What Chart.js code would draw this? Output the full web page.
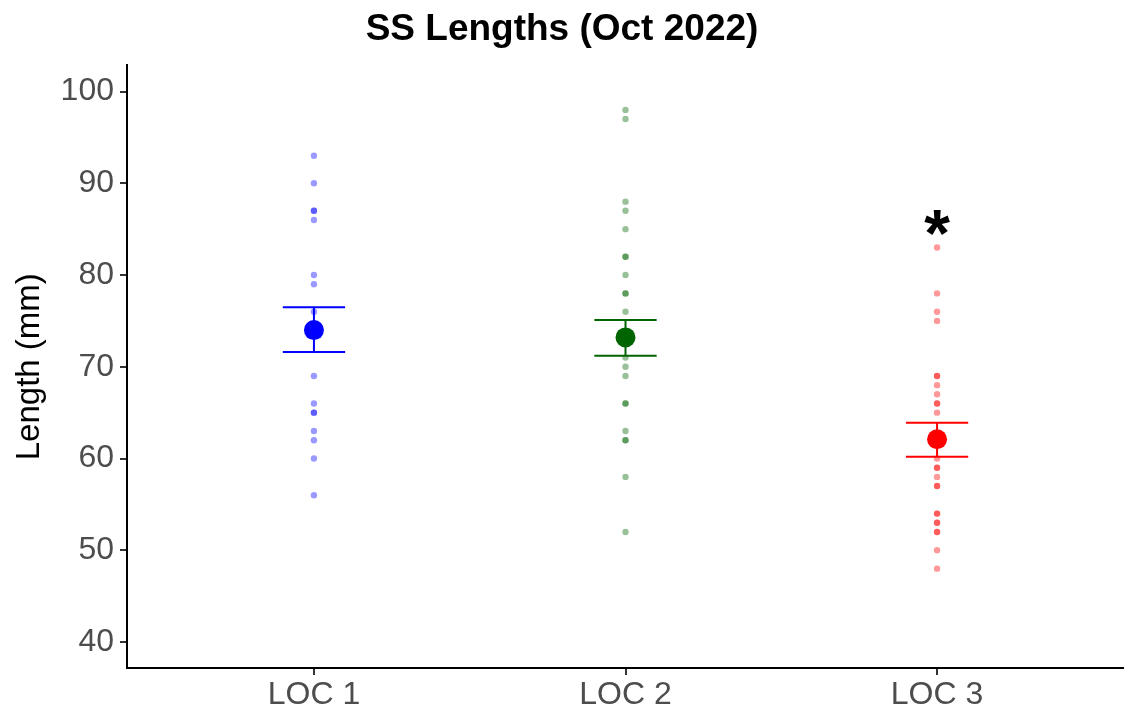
<!DOCTYPE html>
<html>
<head>
<meta charset="utf-8">
<title>SS Lengths (Oct 2022)</title>
<script src="https://cdn.jsdelivr.net/npm/chart.js@4/dist/chart.umd.min.js"></script>
<style>
  html, body { margin: 0; padding: 0; background: #fff; overflow: hidden; }
  #wrap { width: 1124px; height: 717px; position: relative; }
  canvas { display: block; }
</style>
</head>
<body>
<div id="wrap"><canvas id="lengths"></canvas></div>
<script>
// ----- data -----
const categories = ['LOC 1', 'LOC 2', 'LOC 3'];
const loc1Lengths = [93, 90, 87, 87, 86, 80, 79, 76, 69, 66, 65, 65, 63, 62, 60, 56];
const loc2Lengths = [98, 97, 88, 87, 85, 82, 82, 80, 78, 78, 76, 71, 70, 69, 66, 66, 63, 62, 62, 58, 52];
const loc3Lengths = [83, 78, 76, 75, 69, 69, 68, 67, 66, 66, 65, 60, 59, 59, 58, 57, 57, 54, 54, 53, 53, 52, 52, 50, 48];
const groupMeans = [74.0, 73.2, 62.1];
const seLower = [71.6, 71.2, 60.2];
const seUpper = [76.5, 75.1, 63.9];
const yTicks = [40, 50, 60, 70, 80, 90, 100];
const groupColors = ['#0000FF', '#006400', '#FF0000'];
const pointColors = ['rgba(0,0,255,0.4)', 'rgba(0,100,0,0.4)', 'rgba(255,0,0,0.4)'];
const sigMarks = [{ group: 3, y: 86, text: '*' }];

const FONT = "'Liberation Sans', Arial, Helvetica, sans-serif";

const rawSets = [loc1Lengths, loc2Lengths, loc3Lengths].map((vals, i) => ({
  label: categories[i],
  data: vals.map(v => ({ x: i + 1, y: v })),
  pointRadius: 3.2,
  pointHoverRadius: 3.2,
  pointBackgroundColor: pointColors[i],
  pointBorderWidth: 0,
  order: 2,
}));

const meanSet = {
  label: 'mean',
  data: groupMeans.map((m, i) => ({ x: i + 1, y: m })),
  pointRadius: 10,
  pointHoverRadius: 10,
  pointBackgroundColor: groupColors,
  pointBorderWidth: 0,
  order: 0,
};

// error bars (mean +/- SE) and significance marks, placed through the scales
const errorBars = {
  id: 'errorBars',
  beforeDatasetsDraw(chart) {
    const { ctx, scales: { x, y } } = chart;
    ctx.save();
    ctx.lineWidth = 2;
    groupMeans.forEach((m, i) => {
      const cx = x.getPixelForValue(i + 1);
      const half = x.getPixelForValue(i + 1.1) - cx;
      const top = y.getPixelForValue(seUpper[i]);
      const bot = y.getPixelForValue(seLower[i]);
      ctx.strokeStyle = groupColors[i];
      ctx.beginPath();
      ctx.moveTo(cx - half, top); ctx.lineTo(cx + half, top);
      ctx.moveTo(cx - half, bot); ctx.lineTo(cx + half, bot);
      ctx.moveTo(cx, top); ctx.lineTo(cx, bot);
      ctx.stroke();
    });
    ctx.restore();
  },
  afterDatasetsDraw(chart) {
    const { ctx, scales: { x, y } } = chart;
    ctx.save();
    ctx.fillStyle = '#000';
    ctx.font = 'bold 66px ' + FONT;
    ctx.textAlign = 'center';
    ctx.textBaseline = 'alphabetic';
    sigMarks.forEach(s => {
      // asterisk glyph sits high in the em box, shift baseline down
      ctx.fillText(s.text, x.getPixelForValue(s.group), y.getPixelForValue(s.y) + 36);
    });
    ctx.restore();
  },
};

new Chart(document.getElementById('lengths'), {
  type: 'scatter',
  data: { datasets: [...rawSets, meanSet] },
  options: {
    responsive: true,
    maintainAspectRatio: false,
    animation: false,
    layout: { padding: 0, autoPadding: false },
    plugins: {
      legend: { display: false },
      tooltip: { enabled: false },
      title: {
        display: true,
        text: 'SS Lengths (Oct 2022)',
        color: '#000',
        font: { family: FONT, size: 37, weight: 'bold' },
        padding: { top: 8, bottom: 13 },
      },
    },
    scales: {
      x: {
        type: 'linear',
        min: 0.4,
        max: 3.6,
        afterBuildTicks: axis => { axis.ticks = categories.map((c, i) => ({ value: i + 1 })); },
        afterFit: axis => {
          axis.height = 49;
          axis.paddingLeft = 0;
          axis.paddingRight = 0;
        },
        ticks: {
          callback: v => categories[v - 1],
          color: '#4D4D4D',
          font: { family: FONT, size: 32 },
          padding: 1,
          maxRotation: 0,
        },
        grid: { drawOnChartArea: false, drawTicks: true, tickLength: 7, tickColor: '#333', lineWidth: 2 },
        border: { color: '#000', width: 2 },
      },
      y: {
        min: 37.17,
        max: 102.85,
        afterBuildTicks: axis => { axis.ticks = yTicks.map(v => ({ value: v })); },
        afterFit: axis => { axis.width = 127; },
        ticks: {
          color: '#4D4D4D',
          font: { family: FONT, size: 32 },
          padding: 6,
        },
        title: {
          display: true,
          text: 'Length (mm)',
          color: '#000',
          font: { family: FONT, size: 33 },
          padding: { top: 10, bottom: 0 },
        },
        grid: { drawOnChartArea: false, drawTicks: true, tickLength: 7, tickColor: '#333', lineWidth: 2 },
        border: { color: '#000', width: 2 },
      },
    },
  },
  plugins: [errorBars],
});
</script>
</body>
</html>
